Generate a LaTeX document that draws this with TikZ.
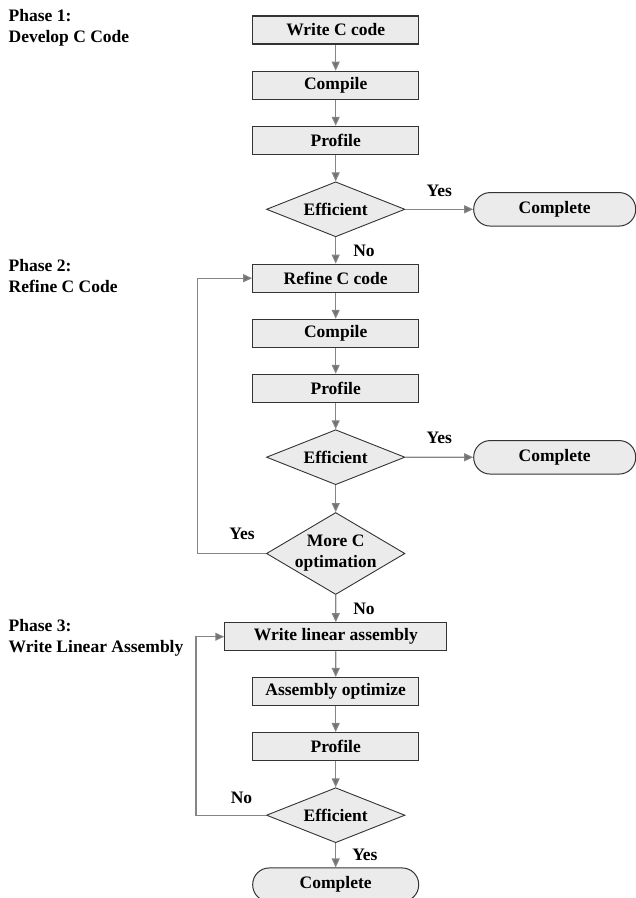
\documentclass[tikz,border=0pt]{standalone}
\usepackage{fontspec}
\setmainfont{Liberation Serif}
\usetikzlibrary{shapes.geometric,arrows.meta,positioning}

\definecolor{boxgray}{HTML}{EBEBEB}
\definecolor{linegray}{HTML}{858585}
\definecolor{edgegray}{HTML}{333333}

\begin{document}
\begin{tikzpicture}[x=1pt, y=-1pt,
	font=\fontsize{17.5}{21}\selectfont\bfseries,
	stepbox/.style={rectangle, fill=boxgray, draw=edgegray, line width=1.1pt, minimum width=166pt, minimum height=28pt, inner sep=0pt},
	decide/.style={diamond, aspect=2.5, fill=boxgray, draw=edgegray, line width=0.9pt, minimum width=138.5pt, minimum height=55pt, inner sep=0pt},
	term/.style={rectangle, rounded corners=16.5pt, fill=boxgray, draw=edgegray, line width=1pt, minimum width=162pt, minimum height=33.5pt, inner sep=0pt},
	phase/.style={anchor=north west, align=left, inner sep=0pt}]
	\useasboundingbox (0,0) rectangle (636,898);

	% phase titles
	\node [phase] (ph1) at (8.5, 9.5) {Phase 1:\\Develop C Code};
	\node [phase] (ph2) at (8.5, 258.8) {Phase 2:\\Refine C Code};
	\node [phase] (ph3) at (8.5, 618.8) {Phase 3:\\Write Linear Assembly};

	% phase 1
	\node [stepbox] (w1) at (335.7, 30) {Write C code};
	\node [stepbox] (c1) at (335.7, 85.2) {Compile};
	\node [stepbox] (p1) at (335.7, 140.3) {Profile};
	\node [decide] (e1) at (335.7, 209.3) {Efficient};
	\node [term] (d1) at (554.7, 209.3) {Complete};

	% phase 2
	\node [stepbox] (r2) at (335.7, 278.2) {Refine C code};
	\node [stepbox] (c2) at (335.7, 333.3) {Compile};
	\node [stepbox] (p2) at (335.7, 388.3) {Profile};
	\node [decide] (e2) at (335.7, 457.2) {Efficient};
	\node [term] (d2) at (554.7, 457.3) {Complete};
	\node [decide, aspect=1.7, minimum height=82pt, inner sep=-4pt, align=center] (m2) at (335.7, 553.5) {More C\\optimation};

	% phase 3
	\node [stepbox, minimum width=222pt] (l3) at (335.8, 636.7) {Write linear assembly};
	\node [stepbox] (a3) at (335.7, 691.5) {Assembly optimize};
	\node [stepbox] (p3) at (335.7, 746.5) {Profile};
	\node [decide] (e3) at (335.7, 815.2) {Efficient};
	\node [term, minimum width=166pt] (d3) at (335.7, 884.7) {Complete};

	\begin{scope}[-{Triangle[length=9pt, width=8pt, fill=linegray!85!black]}, draw=linegray, line width=1.1pt, auto, every node/.style={inner sep=0pt}]
		\draw (w1) to (c1);
		\draw (c1) to (p1);
		\draw (p1) to (e1);
		\draw (e1) to node [above=12.5pt] {Yes} (d1);
		\draw (e1) to node [right=17pt] {No} (r2);
		\draw (r2) to (c2);
		\draw (c2) to (p2);
		\draw (p2) to (e2);
		\draw (e2) to node [above=13.5pt] {Yes} (d2);
		\draw (e2) to (m2);
		\draw (m2.west) -- node [above=13.5pt, pos=0.35] {Yes} ++(-68.5,0) |- (r2.west);
		\draw (m2) to node [right=17pt] {No} (l3);
		\draw (l3) to (a3);
		\draw (a3) to (p3);
		\draw (p3) to (e3);
		\draw (e3.west) -- node [above=11pt, pos=0.35] {No} ++(-70,0) |- (l3.west);
		\draw (e3) to node [right=16pt] {Yes} (d3);
	\end{scope}
\end{tikzpicture}
\end{document}
